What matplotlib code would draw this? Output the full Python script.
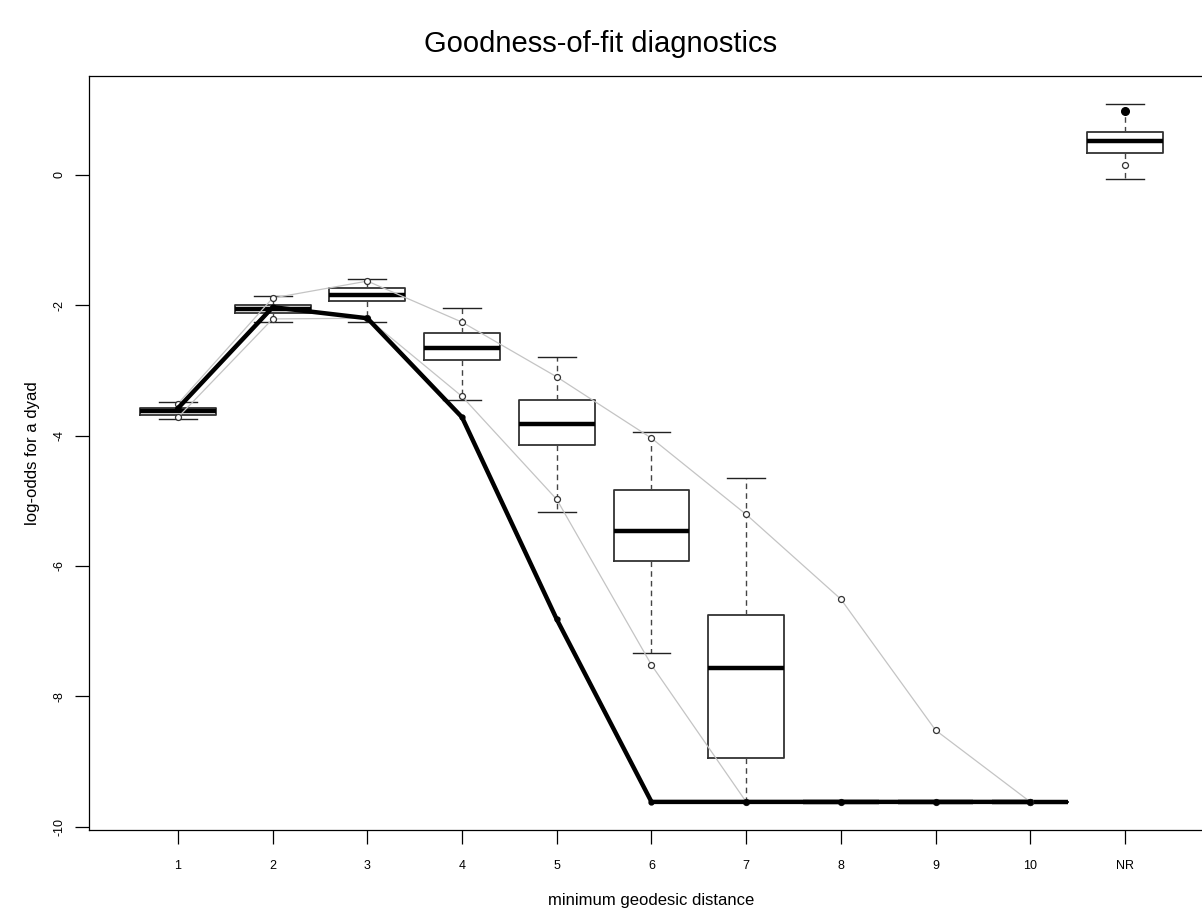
import matplotlib
matplotlib.use("Agg")
import matplotlib.pyplot as plt

plt.rcParams['font.family'] = ['Liberation Sans', 'DejaVu Sans']

# minimum geodesic distance categories
labels = ['1', '2', '3', '4', '5', '6', '7', '8', '9', '10', 'NR']

# simulated log-odds summaries per distance
whis_lo = [-3.74, -2.25, -2.25, -3.45, -5.17, -7.34, -9.62, -9.62, -9.62, -9.62, -0.06]
q1 = [-3.68, -2.12, -1.94, -2.84, -4.14, -5.92, -8.94, -9.62, -9.62, -9.62, 0.34]
med = [-3.63, -2.06, -1.85, -2.65, -3.82, -5.46, -7.57, -9.62, -9.62, -9.62, 0.52]
q3 = [-3.57, -2.00, -1.74, -2.42, -3.45, -4.83, -6.75, -9.62, -9.62, -9.62, 0.66]
whis_hi = [-3.49, -1.86, -1.60, -2.05, -2.80, -3.94, -4.65, -9.62, -9.62, -9.62, 1.09]

# 95% range of simulations
sim_lo = [-3.72, -2.21, -2.20, -3.40, -4.98, -7.52, -9.62, -9.62, -9.62, -9.62, 0.15]
sim_hi = [-3.51, -1.89, -1.63, -2.26, -3.10, -4.04, -5.21, -6.51, -8.52, -9.62, 0.98]

# observed network
observed = [-3.58, -2.03, -2.20, -3.72, -6.82, -9.62, -9.62, -9.62, -9.62, -9.62, 0.98]

pos = list(range(1, len(labels) + 1))
n = len(labels) - 1  # connected distances, NR drawn on its own

fig = plt.figure(figsize=(12.02, 9.13), dpi=100)
ax = fig.add_axes([0.074, 0.091, 0.936, 0.826])

stats = []
for i in range(len(labels)):
    stats.append(dict(whislo=whis_lo[i], q1=q1[i], med=med[i], q3=q3[i],
                      whishi=whis_hi[i], fliers=[]))

ax.bxp(stats, positions=pos, widths=0.8, showfliers=False,
       boxprops=dict(color='#333333', linewidth=1.3),
       medianprops=dict(color='black', linewidth=3.2, solid_capstyle='butt'),
       whiskerprops=dict(color='#444444', linewidth=1.0, linestyle=(0, (4, 3))),
       capprops=dict(color='#222222', linewidth=1.0),
       capwidths=0.4, manage_ticks=False)

# simulation bounds
for series in (sim_lo, sim_hi):
    ax.plot(pos[:n], series[:n], color='#c4c4c4', linewidth=0.9, zorder=3)
    ax.plot(pos, series, linestyle='none', marker='o', markersize=4.3,
            markerfacecolor='white', markeredgecolor='#333333',
            markeredgewidth=0.9, zorder=4)

# observed statistics
ax.plot(pos[:n], observed[:n], color='black', linewidth=3.2, marker='o',
        markersize=3.5, zorder=5)
ax.plot(pos[n:], observed[n:], linestyle='none', marker='o', markersize=5.5,
        color='black', zorder=6)

ax.set_xlim(0.06, 11.94)
ax.set_ylim(-10.05, 1.52)
ax.set_xticks(pos)
ax.set_xticklabels(labels)
ax.set_yticks([0, -2, -4, -6, -8, -10])
ax.set_yticklabels(['0', '-2', '-4', '-6', '-8', '-10'], rotation=90, va='center')
ax.tick_params(axis='both', direction='out', length=10, width=0.9,
               labelsize=9, colors='black')
ax.tick_params(axis='x', pad=12)
ax.tick_params(axis='y', pad=7)
for s in ax.spines.values():
    s.set_linewidth(0.9)

ax.set_xlabel('minimum geodesic distance', fontsize=12, va='center')
ax.xaxis.set_label_coords(0.5, -0.093)
ax.set_ylabel('log-odds for a dyad', fontsize=12, va='center')
ax.yaxis.set_label_coords(-0.05, 0.5)
fig.suptitle('Goodness-of-fit diagnostics', fontsize=21, x=0.5, y=0.967)

fig.savefig('out.png', dpi=100)
